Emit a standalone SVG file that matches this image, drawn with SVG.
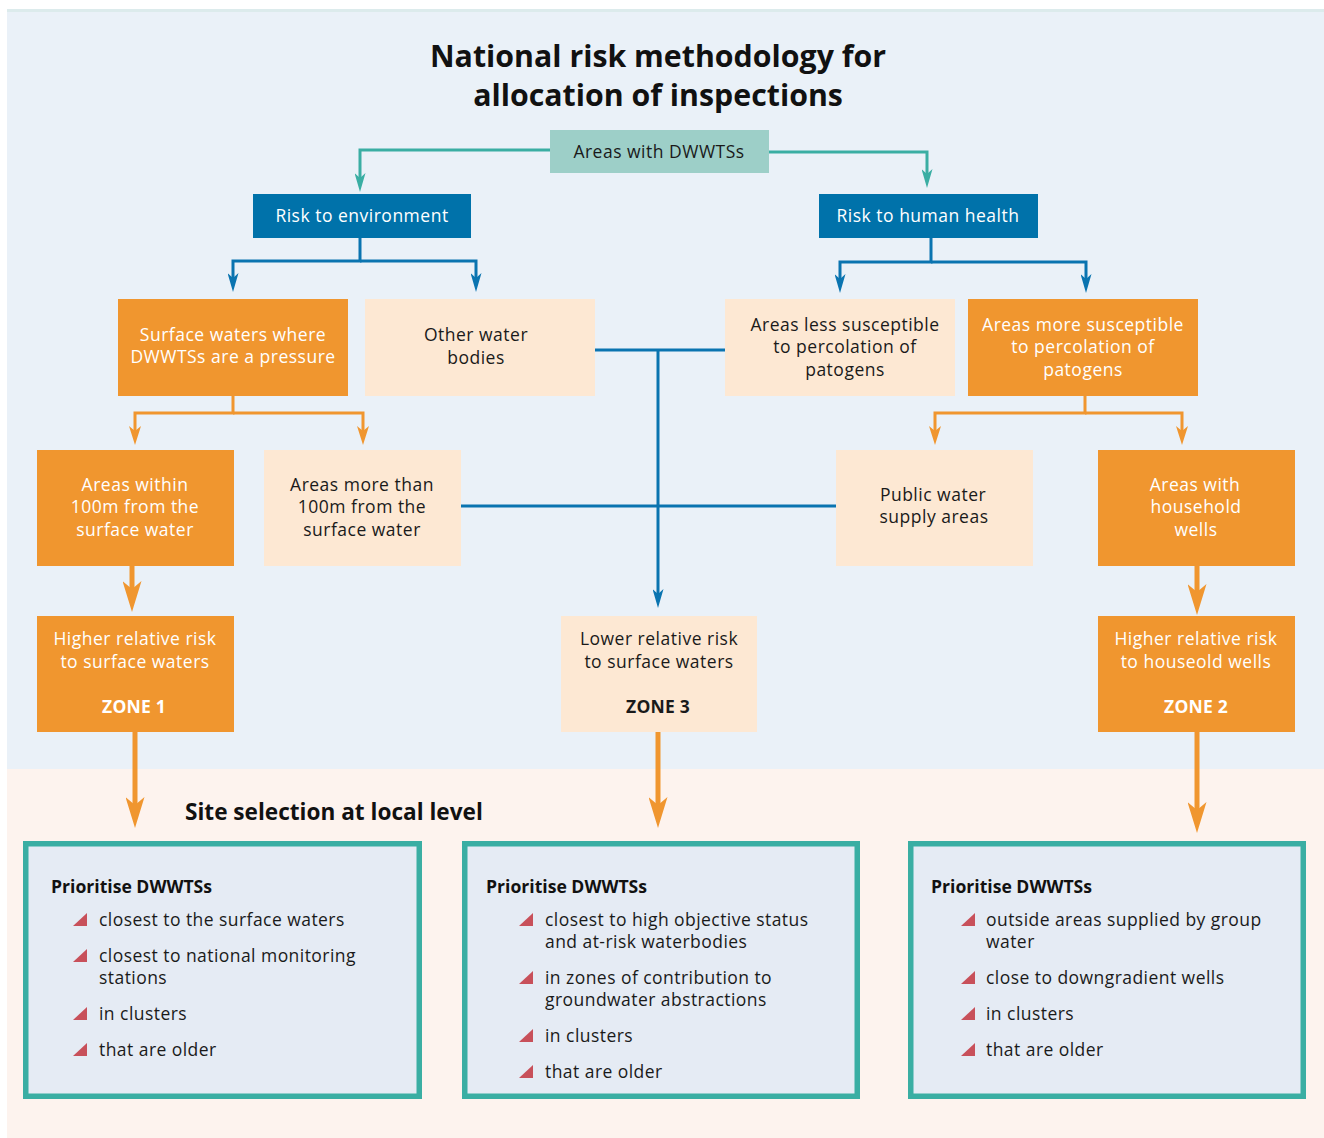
<svg xmlns="http://www.w3.org/2000/svg" width="1324" height="1138" viewBox="0 0 1324 1138">
<style>
  text { font-family: "Open Sans", "Noto Sans", "Liberation Sans", sans-serif; }
  .title { font-size: 30.3px; font-weight: bold; fill: #111; text-anchor: middle; }
  .sub { font-size: 22.6px; font-weight: bold; fill: #111; }
  .lbl { font-size: 17.5px; letter-spacing: 0.5px; text-anchor: middle; }
  .dk { fill: #1a1a1a; }
  .wt { fill: #ffffff; }
  .zone { font-weight: bold; letter-spacing: 0.2px; }
  .head { font-size: 17.6px; font-weight: bold; fill: #111; }
  .item { font-size: 17.5px; letter-spacing: 0.45px; fill: #1a1a1a; }
  .orange { fill: #f0962f; }
  .peach { fill: #fde8d3; }
  .navy { fill: #0072aa; }
  .teal { fill: #9dcfc8; }
  .list { fill: #e5ebf4; stroke: #3aaea3; stroke-width: 5.5; }
  .cT { fill: none; stroke: #3aaea3; stroke-width: 3; }
  .cB { fill: none; stroke: #0a74b0; stroke-width: 3; }
  .cO { fill: none; stroke: #f0962f; stroke-width: 3; }
  .cOT { fill: none; stroke: #f0962f; stroke-width: 5; }
  .bul { fill: #c8505a; }
</style>
<defs>
  <marker id="aT" markerUnits="userSpaceOnUse" markerWidth="19" markerHeight="11" viewBox="0 0 19 11" refX="12" refY="5.5" orient="auto"><path d="M0,0 L19,5.5 L0,11 L5,5.5 Z" fill="#3aaea3"/></marker>
  <marker id="aB" markerUnits="userSpaceOnUse" markerWidth="19" markerHeight="11" viewBox="0 0 19 11" refX="12" refY="5.5" orient="auto"><path d="M0,0 L19,5.5 L0,11 L5,5.5 Z" fill="#0a74b0"/></marker>
  <marker id="aO" markerUnits="userSpaceOnUse" markerWidth="19" markerHeight="12" viewBox="0 0 19 12" refX="12" refY="6" orient="auto"><path d="M0,0 L19,6 L0,12 L5,6 Z" fill="#f0962f"/></marker>
  <marker id="aOT" markerUnits="userSpaceOnUse" markerWidth="31" markerHeight="19" viewBox="0 0 31 19" refX="20" refY="9.5" orient="auto"><path d="M0,0 L31,9.5 L0,19 L8,9.5 Z" fill="#f0962f"/></marker>
  <path id="tri" d="M0,0 L14,0 L14,-13 Z"/>
</defs>

<!-- backgrounds -->
<rect x="7" y="10" width="1317" height="759" fill="#eaf1f8"/>
<rect x="7" y="9" width="1317" height="3" fill="#dcebec"/>
<rect x="7" y="769" width="1317" height="369" fill="#fdf3ee"/>

<text class="title" x="658" y="67">National risk methodology for<tspan x="658" y="106">allocation of inspections</tspan></text>
<text class="sub" x="185" y="820">Site selection at local level</text>

<g id="connectors">
  <path class="cT" d="M550,150 H360 V185" marker-end="url(#aT)"/>
  <path class="cT" d="M769,152 H927 V181" marker-end="url(#aT)"/>
  <path class="cB" d="M360,238 V261 H233 V285" marker-end="url(#aB)"/>
  <path class="cB" d="M360,261 H476 V285" marker-end="url(#aB)"/>
  <path class="cB" d="M931,238 V262 H840 V286" marker-end="url(#aB)"/>
  <path class="cB" d="M931,262 H1086 V286" marker-end="url(#aB)"/>
  <path class="cB" d="M595,350 H725"/>
  <path class="cB" d="M461,506 H836"/>
  <path class="cB" d="M658,350 V601" marker-end="url(#aB)"/>
  <path class="cO" d="M233,396 V413 H135 V438" marker-end="url(#aO)"/>
  <path class="cO" d="M233,413 H363 V438" marker-end="url(#aO)"/>
  <path class="cO" d="M1085,396 V413 H935 V438" marker-end="url(#aO)"/>
  <path class="cO" d="M1085,413 H1182 V438" marker-end="url(#aO)"/>
  <path class="cOT" d="M132,566 V601" marker-end="url(#aOT)"/>
  <path class="cOT" d="M1197,566 V604" marker-end="url(#aOT)"/>
  <path class="cOT" d="M135,732 V817" marker-end="url(#aOT)"/>
  <path class="cOT" d="M658,732 V817" marker-end="url(#aOT)"/>
  <path class="cOT" d="M1197,732 V822" marker-end="url(#aOT)"/>
</g>

<g id="areas-dwwts">
  <rect class="teal" x="550" y="130" width="219" height="43"/>
  <text class="lbl dk" x="659" y="158">Areas with DWWTSs</text>
</g>
<g id="risk-env">
  <rect class="navy" x="253" y="194" width="218" height="44"/>
  <text class="lbl wt" x="362" y="222">Risk to environment</text>
</g>
<g id="risk-health">
  <rect class="navy" x="819" y="194" width="219" height="44"/>
  <text class="lbl wt" x="928" y="222">Risk to human health</text>
</g>
<g id="surface-waters">
  <rect class="orange" x="118" y="299" width="230" height="97"/>
  <text class="lbl wt" x="233" y="341">Surface waters where<tspan x="233" y="363">DWWTSs are a pressure</tspan></text>
</g>
<g id="other-water">
  <rect class="peach" x="365" y="299" width="230" height="97"/>
  <text class="lbl dk" x="476" y="341">Other water<tspan x="476" y="364">bodies</tspan></text>
</g>
<g id="less-susceptible">
  <rect class="peach" x="725" y="299" width="230" height="97"/>
  <text class="lbl dk" x="845" y="331">Areas less susceptible<tspan x="845" y="353">to percolation of</tspan><tspan x="845" y="376">patogens</tspan></text>
</g>
<g id="more-susceptible">
  <rect class="orange" x="968" y="299" width="230" height="97"/>
  <text class="lbl wt" x="1083" y="331">Areas more susceptible<tspan x="1083" y="353">to percolation of</tspan><tspan x="1083" y="376">patogens</tspan></text>
</g>
<g id="within-100m">
  <rect class="orange" x="37" y="450" width="197" height="116"/>
  <text class="lbl wt" x="135" y="491">Areas within<tspan x="135" y="513">100m from the</tspan><tspan x="135" y="536">surface water</tspan></text>
</g>
<g id="more-100m">
  <rect class="peach" x="264" y="450" width="197" height="116"/>
  <text class="lbl dk" x="362" y="491">Areas more than<tspan x="362" y="513">100m from the</tspan><tspan x="362" y="536">surface water</tspan></text>
</g>
<g id="public-water">
  <rect class="peach" x="836" y="450" width="197" height="116"/>
  <text class="lbl dk" x="933" y="501">Public water<tspan x="934" y="523">supply areas</tspan></text>
</g>
<g id="household-wells">
  <rect class="orange" x="1098" y="450" width="197" height="116"/>
  <text class="lbl wt" x="1195" y="491">Areas with<tspan x="1196" y="513">household</tspan><tspan x="1196" y="536">wells</tspan></text>
</g>
<g id="zone1">
  <rect class="orange" x="37" y="616" width="197" height="116"/>
  <text class="lbl wt" x="135" y="645">Higher relative risk<tspan x="135" y="668">to surface waters</tspan></text>
  <text class="lbl wt zone" x="134" y="713">ZONE 1</text>
</g>
<g id="zone3">
  <rect class="peach" x="561" y="616" width="196" height="116"/>
  <text class="lbl dk" x="659" y="645">Lower relative risk<tspan x="659" y="668">to surface waters</tspan></text>
  <text class="lbl dk zone" x="658" y="713">ZONE 3</text>
</g>
<g id="zone2">
  <rect class="orange" x="1098" y="616" width="197" height="116"/>
  <text class="lbl wt" x="1196" y="645">Higher relative risk<tspan x="1196" y="668">to houseold wells</tspan></text>
  <text class="lbl wt zone" x="1196" y="713">ZONE 2</text>
</g>

<g id="list1">
  <rect class="list" x="25.75" y="843.75" width="393.5" height="252.5"/>
  <text class="head" x="51" y="893">Prioritise DWWTSs</text>
  <use href="#tri" class="bul" x="73" y="926"/>
  <text class="item" x="99" y="926">closest to the surface waters</text>
  <use href="#tri" class="bul" x="73" y="962"/>
  <text class="item" x="99" y="962">closest to national monitoring<tspan x="99" y="984">stations</tspan></text>
  <use href="#tri" class="bul" x="73" y="1020"/>
  <text class="item" x="99" y="1020">in clusters</text>
  <use href="#tri" class="bul" x="73" y="1056"/>
  <text class="item" x="99" y="1056">that are older</text>
</g>
<g id="list3">
  <rect class="list" x="464.75" y="843.75" width="392.5" height="252.5"/>
  <text class="head" x="486" y="893">Prioritise DWWTSs</text>
  <use href="#tri" class="bul" x="519" y="926"/>
  <text class="item" x="545" y="926">closest to high objective status<tspan x="545" y="948">and at-risk waterbodies</tspan></text>
  <use href="#tri" class="bul" x="519" y="984"/>
  <text class="item" x="545" y="984">in zones of contribution to<tspan x="545" y="1006">groundwater abstractions</tspan></text>
  <use href="#tri" class="bul" x="519" y="1042"/>
  <text class="item" x="545" y="1042">in clusters</text>
  <use href="#tri" class="bul" x="519" y="1078"/>
  <text class="item" x="545" y="1078">that are older</text>
</g>
<g id="list2">
  <rect class="list" x="910.75" y="843.75" width="392.5" height="252.5"/>
  <text class="head" x="931" y="893">Prioritise DWWTSs</text>
  <use href="#tri" class="bul" x="961" y="926"/>
  <text class="item" x="986" y="926">outside areas supplied by group<tspan x="986" y="948">water</tspan></text>
  <use href="#tri" class="bul" x="961" y="984"/>
  <text class="item" x="986" y="984">close to downgradient wells</text>
  <use href="#tri" class="bul" x="961" y="1020"/>
  <text class="item" x="986" y="1020">in clusters</text>
  <use href="#tri" class="bul" x="961" y="1056"/>
  <text class="item" x="986" y="1056">that are older</text>
</g>
</svg>
